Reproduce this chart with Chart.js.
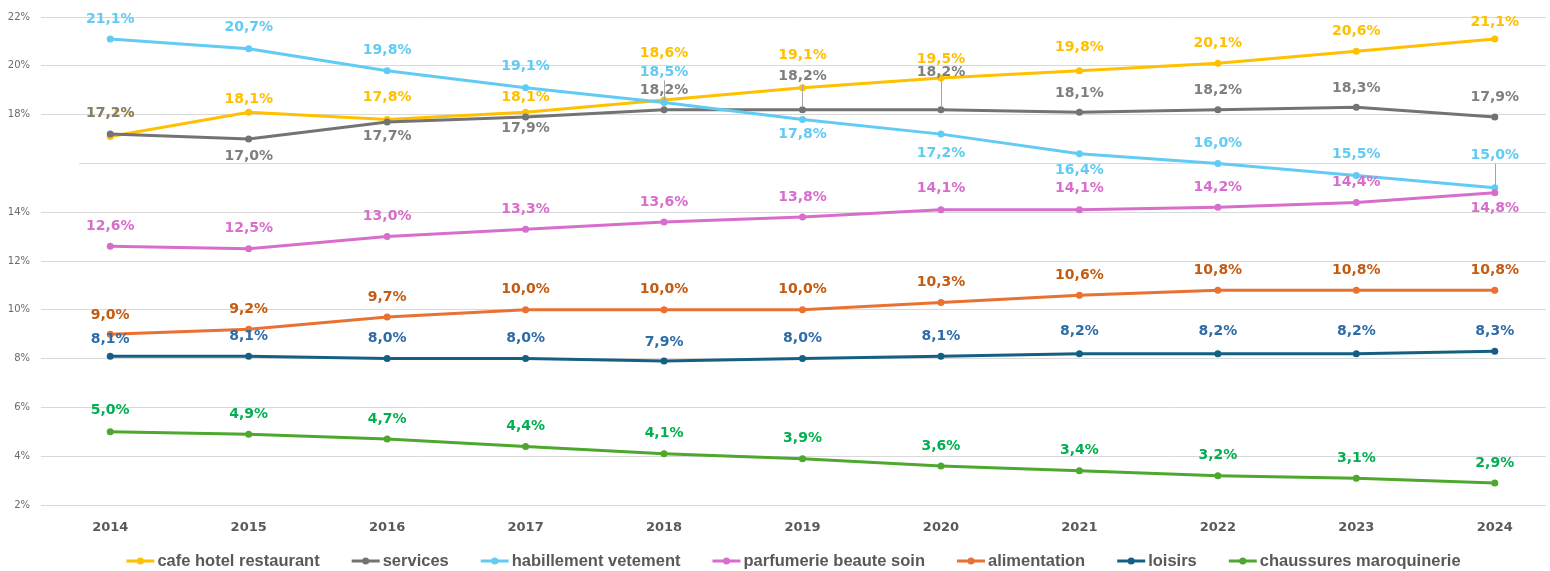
<!DOCTYPE html>
<html><head><meta charset="utf-8">
<script src="https://cdn.jsdelivr.net/npm/chart.js@4.4.1/dist/chart.umd.min.js"></script>
<style>html,body{margin:0;padding:0;background:#fff}#wrap{width:1550px;height:571px;position:relative}</style>
</head><body><div id="wrap"><canvas id="c"></canvas></div>
<script>
// ---- data ----
const years = [2014, 2015, 2016, 2017, 2018, 2019, 2020, 2021, 2022, 2023, 2024];
const yTickValues = [2, 4, 6, 8, 10, 12, 14, 16, 18, 20, 22];
const seriesNames = ['cafe hotel restaurant', 'services', 'habillement vetement', 'parfumerie beaute soin', 'alimentation', 'loisirs', 'chaussures maroquinerie'];
const cafeHotelRestaurant = [17.1, 18.1, 17.8, 18.1, 18.6, 19.1, 19.5, 19.8, 20.1, 20.6, 21.1];
const services = [17.2, 17.0, 17.7, 17.9, 18.2, 18.2, 18.2, 18.1, 18.2, 18.3, 17.9];
const habillementVetement = [21.1, 20.7, 19.8, 19.1, 18.5, 17.8, 17.2, 16.4, 16.0, 15.5, 15.0];
const parfumerieBeauteSoin = [12.6, 12.5, 13.0, 13.3, 13.6, 13.8, 14.1, 14.1, 14.2, 14.4, 14.8];
const alimentation = [9.0, 9.2, 9.7, 10.0, 10.0, 10.0, 10.3, 10.6, 10.8, 10.8, 10.8];
const loisirs = [8.1, 8.1, 8.0, 8.0, 7.9, 8.0, 8.1, 8.2, 8.2, 8.2, 8.3];
const chaussuresMaroquinerie = [5.0, 4.9, 4.7, 4.4, 4.1, 3.9, 3.6, 3.4, 3.2, 3.1, 2.9];
const allSeries = [cafeHotelRestaurant, services, habillementVetement, parfumerieBeauteSoin, alimentation, loisirs, chaussuresMaroquinerie];

// ---- styling (kept separate from data) ----
const lineColors  = ['#FFC000', '#737373', '#61CBF3', '#D86ECC', '#E97132', '#156082', '#4EA72E'];
const labelColors = ['#FFC000', '#7F7F7F', '#61CBF3', '#D86ECC', '#C55A11', '#2E6CA8', '#00B050'];
// label offsets in px (positive = above the point, negative = below)
const labelOffsets = [
  [23, 13, 22, 15, 47, 32, 19, 23, 20, 20, 17],
  [21, -17, -14, -11, 19, 33, 37, 19, 19, 19, 20],
  [20, 21, 20, 21, 30, -15, -19, -17, 20, 21, 32],
  [20, 20, 20, 20, 20, 20, 21, 21, 20, 20, -16],
  [19, 20, 20, 20, 20, 20, 20, 20, 20, 20, 20],
  [17, 20, 20, 20, 19, 20, 20, 22, 22, 22, 20],
  [21, 20, 20, 20, 20, 20, 20, 20, 20, 20, 20]
];
// [seriesIndex, pointIndex] of labels drawn with a leader line
const leaderLines = [[2, 4], [2, 10], [1, 5], [1, 6]];

const fmt = v => v.toFixed(1).replace('.', ',') + '%';

const datasets = allSeries.map((arr, i) => ({
  label: seriesNames[i],
  data: arr.map((v, j) => ({ x: years[j], y: v })),
  borderColor: lineColors[i],
  backgroundColor: lineColors[i],
  pointBackgroundColor: lineColors[i],
  pointBorderColor: lineColors[i],
  pointBorderWidth: 0,
  pointRadius: 3.5,
  borderWidth: 3,
  tension: 0,
  order: allSeries.length - i
}));

const grid16Plugin = {
  id: 'grid16',
  beforeDatasetsDraw(chart) {
    const { ctx, chartArea, scales: { y } } = chart;
    const py = Math.round(y.getPixelForValue(16)) + 0.5;
    ctx.save();
    ctx.strokeStyle = '#D9D9D9';
    ctx.lineWidth = 1;
    ctx.beginPath();
    ctx.moveTo(79, py);
    ctx.lineTo(chartArea.right, py);
    ctx.stroke();
    ctx.restore();
  }
};

const dataLabelPlugin = {
  id: 'dataLabels',
  afterDatasetsDraw(chart) {
    const ctx = chart.ctx;
    ctx.save();
    ctx.font = 'bold 14px "DejaVu Sans"';
    ctx.textAlign = 'center';
    ctx.textBaseline = 'middle';
    chart.data.datasets.forEach((ds, i) => {
      const meta = chart.getDatasetMeta(i);
      meta.data.forEach((pt, j) => {
        const off = labelOffsets[i][j];
        const ly = pt.y - off;
        if (leaderLines.some(l => l[0] === i && l[1] === j)) {
          ctx.strokeStyle = '#A6A6A6';
          ctx.lineWidth = 1;
          ctx.beginPath();
          ctx.moveTo(Math.round(pt.x) + 0.5, ly + 8);
          ctx.lineTo(Math.round(pt.x) + 0.5, pt.y - 2);
          ctx.stroke();
        }
        ctx.fillStyle = labelColors[i];
        ctx.fillText(fmt(allSeries[i][j]), pt.x, ly);
      });
    });
    ctx.restore();
  }
};

const legendPlugin = {
  id: 'customLegend',
  afterDraw(chart) {
    const { ctx, chartArea } = chart;
    ctx.save();
    ctx.font = 'bold 16.5px "Liberation Sans"';
    ctx.textBaseline = 'middle';
    ctx.textAlign = 'left';
    const markerW = 28, markerGap = 3, itemGap = 32;
    const widths = chart.data.datasets.map(ds => ctx.measureText(ds.label).width);
    let total = widths.reduce((a, w) => a + markerW + markerGap + w, 0) + itemGap * (widths.length - 1);
    let x = (chartArea.left + chartArea.right) / 2 - total / 2;
    const y = 561;
    chart.data.datasets.forEach((ds, i) => {
      ctx.strokeStyle = ds.borderColor;
      ctx.lineWidth = 3;
      ctx.beginPath();
      ctx.moveTo(x, y);
      ctx.lineTo(x + markerW, y);
      ctx.stroke();
      ctx.fillStyle = ds.borderColor;
      ctx.beginPath();
      ctx.arc(x + markerW / 2, y, 3.5, 0, Math.PI * 2);
      ctx.fill();
      ctx.fillStyle = '#595959';
      ctx.fillText(ds.label, x + markerW + markerGap, y);
      x += markerW + markerGap + widths[i] + itemGap;
    });
    ctx.restore();
  }
};

new Chart(document.getElementById('c'), {
  type: 'line',
  data: { datasets },
  options: {
    responsive: true,
    maintainAspectRatio: false,
    animation: false,
    devicePixelRatio: 1,
    layout: { padding: { top: 17, left: 0, right: 2, bottom: 26 } },
    plugins: { legend: { display: false }, tooltip: { enabled: false } },
    scales: {
      x: {
        type: 'linear',
        min: 2013.5,
        max: 2024.37,
        afterBuildTicks: s => { s.ticks = years.map(v => ({ value: v })); },
        afterFit: s => { s.height = 40; },
        ticks: {
          autoSkip: false, maxRotation: 0, padding: 7,
          color: '#595959',
          font: { family: 'DejaVu Sans', size: 13, weight: 'bold' },
          callback: v => String(v)
        },
        grid: { display: false },
        border: { display: false }
      },
      y: {
        min: 2, max: 22,
        afterBuildTicks: s => { s.ticks = yTickValues.map(v => ({ value: v })); },
        afterFit: s => { s.width = 41; },
        ticks: {
          padding: 11,
          color: '#6B6B6B',
          font: { family: 'DejaVu Sans', size: 10 },
          callback: v => (v === 16 ? '' : v + '%')
        },
        grid: {
          drawTicks: false,
          lineWidth: 1,
          color: c => (c.tick && c.tick.value === 16 ? 'rgba(0,0,0,0)' : '#D9D9D9')
        },
        border: { display: false }
      }
    }
  },
  plugins: [grid16Plugin, dataLabelPlugin, legendPlugin]
});
</script>
</body></html>
